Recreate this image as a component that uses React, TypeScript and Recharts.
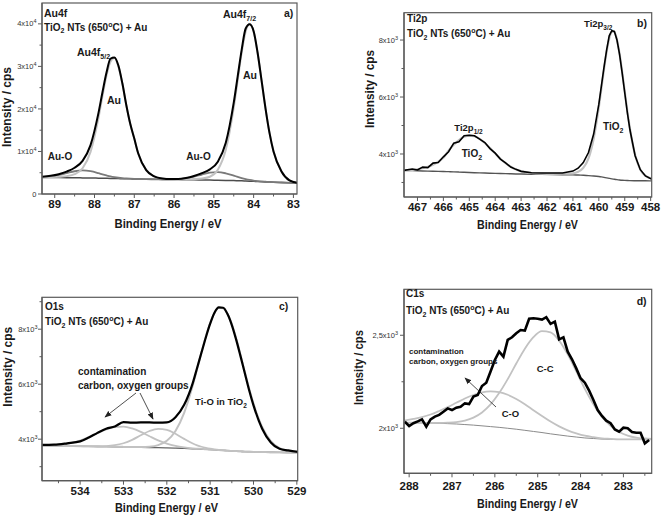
import React from "react";
import { Line, LineChart, XAxis, YAxis } from "recharts";

const FONT = '"Liberation Sans", Arial, Helvetica, sans-serif';
const AXIS = "#5a5a5a";
const INK = "#1a1a1a";
const LIGHT = "#c2c2c2";

/* a) Au4f */
const auBE = [89.35, 89.1, 88.9, 88.7, 88.5, 88.3, 88.1, 87.9, 87.8, 87.7, 87.6, 87.5, 87.4, 87.3, 87.2, 87.1, 87.0, 86.9, 86.7, 86.5, 86.3, 86.1, 85.9, 85.7, 85.5, 85.3, 85.1, 84.9, 84.7, 84.5, 84.4, 84.3, 84.2, 84.1, 84.0, 83.9, 83.8, 83.7, 83.6, 83.5, 83.3, 83.1, 82.9];
const auExp = [4020, 4270, 4660, 5270, 6180, 7800, 11500, 19070, 23920, 28490, 31800, 32100, 30200, 26020, 20870, 16440, 13020, 9510, 5600, 4150, 3650, 3520, 3550, 3780, 4250, 4920, 5790, 7600, 12060, 21470, 27700, 33950, 38900, 39900, 38280, 33210, 26660, 20030, 14300, 10000, 5300, 3200, 2600];
const auFitAu = [3950, 4000, 4060, 4200, 4650, 6050, 9900, 17900, 23000, 27800, 31100, 31950, 30000, 25900, 20800, 16400, 13000, 9500, 5600, 4150, 3650, 3480, 3420, 3430, 3500, 3650, 4050, 5700, 10400, 20300, 26800, 33300, 38200, 40000, 38100, 33100, 26600, 20000, 14300, 10000, 5300, 3200, 2600];
const auFitAuO = [3970, 4150, 4460, 4910, 5350, 5540, 5360, 4890, 4620, 4370, 4140, 3960, 3820, 3720, 3650, 3600, 3560, 3530, 3490, 3460, 3430, 3440, 3510, 3700, 4080, 4570, 5010, 5140, 4860, 4320, 4020, 3740, 3500, 3300, 3150, 3040, 2950, 2880, 2810, 2770, 2700, 2630, 2560];
const auBg = [3900, 3880, 3860, 3840, 3820, 3790, 3760, 3720, 3700, 3680, 3660, 3640, 3620, 3600, 3580, 3560, 3540, 3520, 3490, 3460, 3430, 3400, 3380, 3350, 3330, 3300, 3270, 3240, 3200, 3150, 3120, 3090, 3050, 3010, 2970, 2930, 2890, 2850, 2810, 2770, 2700, 2630, 2560];
const auXTicks = [89, 88.5, 88, 87.5, 87, 86.5, 86, 85.5, 85, 84.5, 84, 83.5, 83];
const auYTicks = [0, 5000, 10000, 15000, 20000, 25000, 30000, 35000, 40000];

/* b) Ti2p */
const tiBE = [467.55, 467.2, 467.0, 466.8, 466.6, 466.4, 466.2, 466.0, 465.8, 465.6, 465.4, 465.2, 465.0, 464.8, 464.6, 464.4, 464.2, 464.0, 463.8, 463.6, 463.4, 463.2, 463.0, 462.6, 462.2, 461.8, 461.4, 461.0, 460.8, 460.6, 460.4, 460.2, 460.0, 459.9, 459.8, 459.7, 459.6, 459.5, 459.4, 459.3, 459.2, 459.1, 459.0, 458.9, 458.8, 458.6, 458.4, 458.2, 457.95];
const tiExp = [3420, 3470, 3440, 3540, 3520, 3680, 3700, 3900, 4080, 4380, 4430, 4640, 4660, 4640, 4520, 4400, 4190, 4030, 3820, 3690, 3540, 3460, 3390, 3340, 3330, 3330, 3330, 3400, 3500, 3700, 4050, 4700, 5750, 6400, 7050, 7650, 8150, 8330, 8300, 8000, 7500, 6850, 6150, 5450, 4850, 3940, 3450, 3230, 3110];
const tiFit = [3430, 3445, 3465, 3500, 3550, 3625, 3730, 3865, 4120, 4322, 4485, 4603, 4647, 4623, 4531, 4384, 4205, 4016, 3835, 3678, 3551, 3456, 3400, 3332, 3309, 3303, 3308, 3322, 3374, 3512, 3845, 4538, 5642, 6310, 6981, 7588, 8049, 8297, 8281, 8002, 7512, 6879, 6187, 5502, 4885, 3962, 3455, 3230, 3139];
const tiBg = [3420, 3415, 3410, 3405, 3400, 3395, 3390, 3385, 3380, 3372, 3365, 3358, 3350, 3343, 3336, 3330, 3325, 3320, 3315, 3310, 3305, 3300, 3296, 3290, 3284, 3278, 3272, 3265, 3260, 3252, 3242, 3228, 3208, 3195, 3180, 3163, 3145, 3128, 3112, 3098, 3087, 3078, 3072, 3068, 3065, 3062, 3060, 3058, 3056];
const tiXTicks = [467, 466.5, 466, 465.5, 465, 464.5, 464, 463.5, 463, 462.5, 462, 461.5, 461, 460.5, 460, 459.5, 459, 458.5, 458];
const tiYTicks = [3000, 4000, 5000, 6000, 7000, 8000];

/* c) O1s */
const oBE = [534.95, 534.6, 534.3, 534.0, 533.8, 533.6, 533.4, 533.2, 533.0, 532.8, 532.6, 532.4, 532.2, 532.0, 531.8, 531.6, 531.4, 531.3, 531.2, 531.1, 531.0, 530.9, 530.8, 530.7, 530.6, 530.5, 530.4, 530.3, 530.2, 530.1, 530.0, 529.8, 529.6, 529.4, 529.2, 528.95];
const oExp = [3790, 3800, 3850, 3920, 4060, 4230, 4380, 4460, 4620, 4600, 4610, 4610, 4600, 4610, 4800, 5250, 6050, 6600, 7150, 7700, 8200, 8600, 8790, 8780, 8550, 8150, 7620, 7020, 6400, 5780, 5230, 4380, 3880, 3650, 3590, 3530];
const oTiO = [3760, 3755, 3750, 3745, 3740, 3735, 3730, 3725, 3720, 3714, 3715, 3727, 3782, 3941, 4298, 4957, 5958, 6549, 7159, 7737, 8231, 8592, 8776, 8766, 8562, 8182, 7670, 7076, 6451, 5847, 5297, 4443, 3931, 3675, 3567, 3524];
const oCont1 = [3765, 3780, 3831, 3951, 4074, 4217, 4352, 4442, 4457, 4391, 4264, 4107, 3958, 3839, 3756, 3703, 3669, 3656, 3644, 3630, 3621, 3612, 3602, 3592, 3582, 3572, 3563, 3555, 3548, 3542, 3537, 3529, 3523, 3519, 3516, 3514];
const oCont2 = [3760, 3755, 3750, 3745, 3740, 3741, 3749, 3780, 3852, 3976, 4142, 4298, 4378, 4339, 4196, 4010, 3843, 3778, 3725, 3685, 3654, 3631, 3612, 3598, 3582, 3572, 3563, 3555, 3548, 3542, 3537, 3529, 3523, 3519, 3516, 3514];
const oBg = [3760, 3755, 3750, 3745, 3740, 3735, 3730, 3725, 3720, 3714, 3708, 3700, 3692, 3684, 3675, 3665, 3653, 3646, 3638, 3630, 3621, 3612, 3602, 3592, 3582, 3572, 3563, 3555, 3548, 3542, 3537, 3529, 3523, 3519, 3516, 3514];
const oXTicks = [534.5, 534, 533.5, 533, 532.5, 532, 531.5, 531, 530.5, 530, 529.5, 529];
const oYTicks = [3000, 4000, 5000, 6000, 7000, 8000, 9000];

/* d) C1s */
const cExpBE = [288.1, 288.0, 287.9, 287.8, 287.7, 287.6, 287.5, 287.4, 287.3, 287.2, 287.1, 287.0, 286.9, 286.8, 286.7, 286.6, 286.5, 286.4, 286.3, 286.2, 286.1, 286.0, 285.9, 285.8, 285.7, 285.6, 285.5, 285.4, 285.3, 285.2, 285.1, 285.0, 284.9, 284.8, 284.7, 284.6, 284.5, 284.4, 284.3, 284.2, 284.1, 284.0, 283.9, 283.8, 283.7, 283.6, 283.5, 283.4, 283.3, 283.2, 283.1, 283.0, 282.9, 282.8, 282.7, 282.6, 282.5, 282.4];
const cExp = [2035, 2012, 2027, 2037, 2048, 2009, 2048, 2063, 2072, 2089, 2107, 2098, 2111, 2116, 2134, 2130, 2170, 2179, 2227, 2245, 2305, 2367, 2412, 2385, 2475, 2489, 2511, 2528, 2525, 2589, 2591, 2589, 2584, 2597, 2561, 2573, 2478, 2489, 2412, 2371, 2322, 2269, 2245, 2202, 2152, 2098, 2066, 2041, 2027, 1994, 1982, 2003, 2000, 1980, 1976, 1976, 1919, 1937];
const cBE = [288.15, 287.9, 287.7, 287.5, 287.3, 287.1, 286.9, 286.7, 286.5, 286.3, 286.1, 285.9, 285.7, 285.5, 285.3, 285.1, 284.9, 284.7, 284.5, 284.3, 284.1, 283.9, 283.7, 283.5, 283.3, 283.1, 282.9, 282.7, 282.5, 282.3];
const cCC = [2030, 2030, 2029, 2029, 2029, 2030, 2033, 2041, 2057, 2085, 2128, 2189, 2264, 2348, 2428, 2490, 2522, 2515, 2471, 2397, 2306, 2212, 2129, 2061, 2013, 1980, 1961, 1950, 1945, 1942];
const cCO = [2040, 2050, 2060, 2074, 2093, 2114, 2137, 2160, 2179, 2193, 2198, 2194, 2180, 2157, 2129, 2097, 2066, 2036, 2010, 1989, 1973, 1960, 1952, 1946, 1943, 1940, 1940, 1940, 1940, 1940];
const cBg = [2030, 2030, 2029, 2028, 2027, 2025, 2023, 2020, 2017, 2013, 2009, 2005, 2000, 1995, 1989, 1983, 1977, 1970, 1964, 1958, 1953, 1948, 1945, 1942, 1941, 1940, 1940, 1940, 1940, 1940];
const cXTicks = [288, 287.5, 287, 286.5, 286, 285.5, 285, 284.5, 284, 283.5, 283, 282.5];
const cYTicks = [2000, 2250, 2500];

type Pt = { x: number; y: number };
const toPts = (xs: number[], ys: number[]): Pt[] => xs.map((x, i) => ({ x, y: ys[i] }));

type Series = { xs: number[]; ys: number[]; color: string; width: number; linear?: boolean };
type YLab = [string, string] | null;

function XTick(props: any) {
  const { x, y, payload, dy } = props;
  const v = payload.value as number;
  const major = Math.abs(v - Math.round(v)) < 1e-6;
  return (
    <g>
      <line x1={x} x2={x} y1={y} y2={y + (major ? 4 : 2.5)} stroke={AXIS} strokeWidth={1} />
      {major ? (
        <text x={x} y={y + dy} textAnchor="middle" fontFamily={FONT} fontWeight="bold" fontSize={11.5} fill={INK}>
          {v}
        </text>
      ) : null}
    </g>
  );
}

function YTick(props: any) {
  const { x, y, payload, fmt, gap } = props;
  const lab: YLab = fmt(payload.value);
  return (
    <g>
      <line x1={x} x2={x - (lab ? 4 : 2.5)} y1={y} y2={y} stroke={AXIS} strokeWidth={1} />
      {lab ? (
        <text x={x - gap} y={y + 2.6} textAnchor="end" fontFamily={FONT} fontSize={7.5} fill="#333">
          {lab[0]}
          {lab[1] ? (
            <tspan dy={-3} fontSize={5.5}>
              {lab[1]}
            </tspan>
          ) : null}
        </text>
      ) : null}
    </g>
  );
}

type PanelProps = {
  left: number;
  top: number;
  w: number;
  h: number;
  pl: number;
  pr: number;
  pt: number;
  pb: number;
  xDomain: [number, number];
  yDomain: [number, number];
  xTicks: number[];
  yTicks: number[];
  yFmt: (v: number) => YLab;
  yGap: number;
  xLabelDy: number;
  series: Series[];
  children?: React.ReactNode;
};

function Panel(p: PanelProps) {
  const plotW = p.w - p.pl - p.pr;
  const plotH = p.h - p.pt - p.pb;
  return (
    <div style={{ position: "absolute", left: p.left, top: p.top, width: p.w, height: p.h }}>
      <LineChart width={p.w} height={p.h} margin={{ top: p.pt, right: p.pr, bottom: 0, left: 0 }}>
        <XAxis
          dataKey="x"
          type="number"
          domain={p.xDomain}
          reversed
          allowDataOverflow
          ticks={p.xTicks}
          interval={0}
          height={p.pb}
          tickSize={0}
          tickMargin={0}
          tickLine={false}
          axisLine={{ stroke: AXIS, strokeWidth: 1.2 }}
          tick={<XTick dy={p.xLabelDy} />}
        />
        <YAxis
          type="number"
          domain={p.yDomain}
          allowDataOverflow
          ticks={p.yTicks}
          interval={0}
          width={p.pl}
          tickSize={0}
          tickMargin={0}
          tickLine={false}
          axisLine={{ stroke: AXIS, strokeWidth: 1.2 }}
          tick={<YTick fmt={p.yFmt} gap={p.yGap} />}
        />
        {p.series.map((s, i) => (
          <Line
            key={i}
            data={toPts(s.xs, s.ys)}
            dataKey="y"
            type={s.linear ? "linear" : "monotone"}
            stroke={s.color}
            strokeWidth={s.width}
            dot={false}
            activeDot={false}
            isAnimationActive={false}
          />
        ))}
      </LineChart>
      <svg width={p.w} height={p.h} style={{ position: "absolute", left: 0, top: 0, pointerEvents: "none" }}>
        <rect x={p.pl} y={p.pt} width={plotW} height={plotH} fill="none" stroke={AXIS} strokeWidth={1.2} />
        {p.children}
      </svg>
    </div>
  );
}

function Txt(props: { x: number; y: number; size?: number; anchor?: "start" | "middle" | "end"; len?: number; children: React.ReactNode }) {
  const { x, y, size = 10, anchor = "start", len, children } = props;
  return (
    <text
      x={x}
      y={y}
      fontFamily={FONT}
      fontWeight="bold"
      fontSize={size}
      textAnchor={anchor}
      fill={INK}
      textLength={len}
      lengthAdjust={len ? "spacingAndGlyphs" : undefined}
    >
      {children}
    </text>
  );
}

function Sample({ x, y }: { x: number; y: number }) {
  return (
    <text x={x} y={y} fontFamily={FONT} fontWeight="bold" fontSize={10} fill={INK}>
      TiO
      <tspan fontSize={7} dy={2.5}>2</tspan>
      <tspan dy={-2.5}> NTs (650</tspan>
      <tspan fontSize={7} dy={-4}>o</tspan>
      <tspan dy={4}>C) + Au</tspan>
    </text>
  );
}

function YTitle({ x, y, len }: { x: number; y: number; len: number }) {
  return (
    <text
      x={x}
      y={y}
      transform={`rotate(-90 ${x} ${y})`}
      textAnchor="middle"
      fontFamily={FONT}
      fontWeight="bold"
      fontSize={13.5}
      fill={INK}
      textLength={len}
      lengthAdjust="spacingAndGlyphs"
    >
      Intensity / cps
    </text>
  );
}

function XTitle({ x, y, len }: { x: number; y: number; len: number }) {
  return (
    <Txt x={x} y={y} size={13.5} anchor="middle" len={len}>
      Binding Energy / eV
    </Txt>
  );
}

function Sub({ children, size = 7 }: { children: React.ReactNode; size?: number }) {
  return (
    <tspan fontSize={size} dy={3}>
      {children}
    </tspan>
  );
}

function Arrow({ id, x1, y1, x2, y2 }: { id: string; x1: number; y1: number; x2: number; y2: number }) {
  return (
    <g>
      <defs>
        <marker id={id} viewBox="0 0 10 10" refX="9" refY="5" markerWidth="7" markerHeight="7" markerUnits="userSpaceOnUse" orient="auto">
          <path d="M0,1 L10,5 L0,9 z" fill="#222" />
        </marker>
      </defs>
      <line x1={x1} y1={y1} x2={x2} y2={y2} stroke="#222" strokeWidth={0.8} markerEnd={`url(#${id})`} />
    </g>
  );
}

const fmtAu = (v: number): YLab => (v === 0 ? ["0", ""] : v % 10000 === 0 ? [`${v / 10000}x10`, "4"] : null);
const fmtK = (v: number): YLab => (v % 2000 === 0 ? [`${v / 1000}x10`, "3"] : null);
const fmtC = (v: number): YLab => (v === 2000 ? ["2x10", "3"] : v === 2500 ? ["2,5x10", "3"] : null);

export default function App() {
  return (
    <div style={{ position: "absolute", left: 0, top: 0, width: 661, height: 518, background: "#fff", overflow: "hidden" }}>
      <Panel
        left={0}
        top={0}
        w={330}
        h={260}
        pl={42}
        pr={33}
        pt={3}
        pb={66}
        xDomain={[82.91, 89.32]}
        yDomain={[0, 44900]}
        xTicks={auXTicks}
        yTicks={auYTicks}
        yFmt={fmtAu}
        yGap={5.5}
        xLabelDy={14}
        series={[
          { xs: auBE, ys: auBg, color: "#4d4d4d", width: 1.5 },
          { xs: auBE, ys: auFitAuO, color: "#7a7a7a", width: 1.8 },
          { xs: auBE, ys: auFitAu, color: LIGHT, width: 2 },
          { xs: auBE, ys: auExp, color: "#000", width: 2 },
        ]}
      >
        <Txt x={44} y={16.5} size={10.5}>Au4f</Txt>
        <Sample x={44} y={30.5} />
        <Txt x={77} y={55.5} size={10.5}>
          Au4f<Sub>5/2</Sub>
        </Txt>
        <Txt x={114} y={104} size={10.5} anchor="middle">Au</Txt>
        <Txt x={60} y={160} anchor="middle">Au-O</Txt>
        <Txt x={198.5} y={160} anchor="middle">Au-O</Txt>
        <Txt x={223} y={17.5} size={10.5}>
          Au4f<Sub>7/2</Sub>
        </Txt>
        <Txt x={250} y={79} size={10.5} anchor="middle">Au</Txt>
        <Txt x={284} y={16.5} size={10.5}>a)</Txt>
        <YTitle x={11} y={107} len={80} />
        <XTitle x={168} y={228} len={107} />
      </Panel>

      <Panel
        left={330}
        top={0}
        w={331}
        h={260}
        pl={74}
        pr={9.3}
        pt={12.7}
        pb={63}
        xDomain={[457.96, 467.52]}
        yDomain={[2490, 8960]}
        xTicks={tiXTicks}
        yTicks={tiYTicks}
        yFmt={fmtK}
        yGap={6}
        xLabelDy={14}
        series={[
          { xs: tiBE, ys: tiBg, color: "#555", width: 1.4 },
          { xs: tiBE, ys: tiFit, color: LIGHT, width: 2.2 },
          { xs: tiBE, ys: tiExp, color: "#000", width: 1.6, linear: true },
        ]}
      >
        <Txt x={77} y={22}>Ti2p</Txt>
        <Sample x={77} y={37} />
        <Txt x={254} y={27} size={9.5}>
          Ti2p<Sub size={6.5}>3/2</Sub>
        </Txt>
        <Txt x={307} y={27} size={10.5}>b)</Txt>
        <Txt x={124.3} y={130.5} size={9.5}>
          Ti2p<Sub size={6.5}>1/2</Sub>
        </Txt>
        <Txt x={131.7} y={157}>
          TiO<Sub>2</Sub>
        </Txt>
        <Txt x={273} y={130}>
          TiO<Sub>2</Sub>
        </Txt>
        <YTitle x={44} y={89} len={78} />
        <XTitle x={197.5} y={229} len={101} />
      </Panel>

      <Panel
        left={0}
        top={260}
        w={330}
        h={258}
        pl={42}
        pr={32.3}
        pt={37.3}
        pb={37.3}
        xDomain={[528.98, 534.88]}
        yDomain={[2490, 9160]}
        xTicks={oXTicks}
        yTicks={oYTicks}
        yFmt={fmtK}
        yGap={4.5}
        xLabelDy={14.3}
        series={[
          { xs: oBE, ys: oBg, color: "#666", width: 1.4 },
          { xs: oBE, ys: oCont1, color: LIGHT, width: 1.8 },
          { xs: oBE, ys: oCont2, color: LIGHT, width: 1.8 },
          { xs: oBE, ys: oTiO, color: LIGHT, width: 2 },
          { xs: oBE, ys: oExp, color: "#000", width: 2.2 },
        ]}
      >
        <Txt x={45} y={50}>O1s</Txt>
        <Sample x={45} y={65} />
        <Txt x={279} y={50} size={10.5}>c)</Txt>
        <Txt x={78} y={115}>contamination</Txt>
        <Txt x={78} y={128.5}>carbon, oxygen groups</Txt>
        <Arrow id="ah-c1" x1={136} y1={133} x2={105} y2={157} />
        <Arrow id="ah-c2" x1={140} y1={133} x2={153} y2={159} />
        <Txt x={195} y={144.5} size={9.5}>
          Ti-O in TiO<Sub size={6.5}>2</Sub>
        </Txt>
        <YTitle x={12.5} y={106.7} len={80} />
        <XTitle x={166.5} y={252} len={103} />
      </Panel>

      <Panel
        left={330}
        top={260}
        w={331}
        h={258}
        pl={74}
        pr={9.3}
        pt={29.3}
        pb={44.7}
        xDomain={[282.34, 288.12]}
        yDomain={[1758, 2747]}
        xTicks={cXTicks}
        yTicks={cYTicks}
        yFmt={fmtC}
        yGap={6}
        xLabelDy={16.5}
        series={[
          { xs: cBE, ys: cBg, color: "#8a8a8a", width: 1 },
          { xs: cBE, ys: cCO, color: LIGHT, width: 1.8 },
          { xs: cBE, ys: cCC, color: LIGHT, width: 1.8 },
          { xs: cExpBE, ys: cExp, color: "#000", width: 2.6, linear: true },
        ]}
      >
        <Txt x={76} y={37}>C1s</Txt>
        <Sample x={76} y={54} />
        <Txt x={306.7} y={45} size={10.5}>d)</Txt>
        <Txt x={79} y={94} size={8}>contamination</Txt>
        <Txt x={79} y={103.5} size={8}>carbon, oxygen groups</Txt>
        <Arrow id="ah-d1" x1={166} y1={147} x2={135} y2={118} />
        <Txt x={206.7} y={111.7} size={9.5}>C-C</Txt>
        <Txt x={171.7} y={157.3} size={9.5}>C-O</Txt>
        <YTitle x={32.5} y={107.5} len={75} />
        <XTitle x={197.5} y={248} len={101} />
      </Panel>
    </div>
  );
}
